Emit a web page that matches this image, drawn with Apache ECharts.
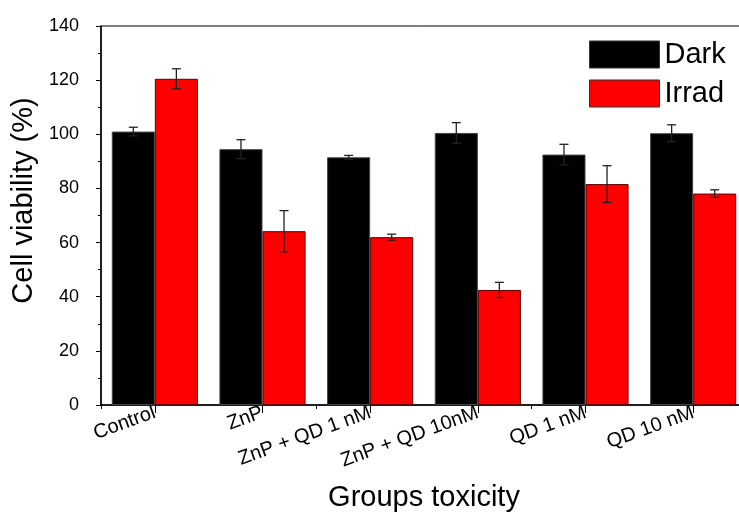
<!DOCTYPE html>
<html><head><meta charset="utf-8">
<script src="https://cdn.jsdelivr.net/npm/echarts@6/dist/echarts.min.js"></script>
<style>html,body{margin:0;padding:0;background:#fff;overflow:hidden;width:739px;height:513px}#c{width:739px;height:513px}</style>
</head><body><div id="c"></div>
<script>
var categories = ['Control', 'ZnP', 'ZnP + QD 1 nM', 'ZnP + QD 10nM', 'QD 1 nM', 'QD 10 nM'];
var dark = [101, 94.5, 91.5, 100.5, 92.5, 100.4];
var darkErr = [1.6, 3.5, 0.7, 3.8, 3.8, 3.1];
var irrad = [120.5, 64.2, 62, 42.5, 81.6, 78.1];
var irradErr = [3.7, 7.6, 1.1, 2.8, 6.8, 1.4];
var yTicks = [0, 20, 40, 60, 80, 100, 120, 140];

var FONT = 'Liberation Sans, Arial, sans-serif';

function errData(vals, errs) {
  return vals.map(function (v, i) { return [i, v - errs[i], v + errs[i]]; });
}
function errSeries(vals, errs, side) {
  return {
    type: 'custom', xAxisIndex: 0, yAxisIndex: 0, z: 5,
    data: errData(vals, errs),
    renderItem: function (params, api) {
      var x = api.value(0);
      var lo = api.coord([x, api.value(1)]);
      var hi = api.coord([x, api.value(2)]);
      var band = api.size([1, 0])[0];
      var cx = lo[0] + side * band * 0.2;
      var hw = 4.5;
      var st = { stroke: '#222', lineWidth: 1.3, fill: null };
      return { type: 'group', children: [
        { type: 'line', shape: { x1: cx, y1: lo[1], x2: cx, y2: hi[1] }, style: st },
        { type: 'line', shape: { x1: cx - hw, y1: lo[1], x2: cx + hw, y2: lo[1] }, style: st },
        { type: 'line', shape: { x1: cx - hw, y1: hi[1], x2: cx + hw, y2: hi[1] }, style: st }
      ]};
    }
  };
}

var chart = echarts.init(document.getElementById('c'), null, { renderer: 'canvas', width: 739, height: 513 });
chart.setOption({
  animation: false,
  textStyle: { fontFamily: FONT, color: '#000' },
  grid: { left: 101, width: 646, top: 26, height: 379, show: true, borderColor: '#000', borderWidth: 1,
          containLabel: false, outerBoundsMode: 'none' },
  legend: {
    orient: 'vertical', left: 584, top: 35, itemWidth: 70, itemHeight: 27, itemGap: 10,
    icon: 'rect',
    data: ['Dark', 'Irrad'],
    textStyle: { fontFamily: FONT, fontSize: 29, color: '#000', lineHeight: 27 },
    itemStyle: { borderColor: '#333', borderWidth: 1 }
  },
  xAxis: [{
    type: 'category', data: categories, position: 'bottom',
    name: 'Groups toxicity', nameLocation: 'middle', nameGap: 78,
    nameTextStyle: { fontFamily: FONT, fontSize: 29, color: '#000' },
    axisLine: { show: true, lineStyle: { color: '#000', width: 1.5 } },
    axisTick: { show: true, alignWithLabel: true, length: 8, lineStyle: { color: '#000', width: 1 } },
    axisLabel: { rotate: 20, fontFamily: FONT, fontSize: 20, color: '#000', margin: 7, interval: 0 },
    splitLine: { show: false }
  }, {
    type: 'category', data: categories, position: 'bottom',
    axisLine: { show: false },
    axisTick: { show: true, length: 4, lineStyle: { color: '#000', width: 1 } },
    axisLabel: { show: false },
    splitLine: { show: false }
  }],
  yAxis: {
    type: 'value', min: yTicks[0], max: yTicks[yTicks.length - 1], interval: 20,
    name: 'Cell viability (%)', nameLocation: 'middle', nameGap: 62,
    nameTextStyle: { fontFamily: FONT, fontSize: 29, color: '#000', padding: [0, 0, 0, 30] },
    axisLine: { show: true, lineStyle: { color: '#000', width: 1.5 } },
    axisTick: { show: true, length: 5, lineStyle: { color: '#000' } },
    minorTick: { show: true, splitNumber: 2, length: 3, lineStyle: { color: '#000' } },
    axisLabel: { fontFamily: FONT, fontSize: 18, color: '#000', margin: 22 },
    splitLine: { show: false }
  },
  series: [
    { name: 'Dark', type: 'bar', data: dark, barWidth: '40%', barGap: '0%',
      itemStyle: { color: '#000', borderColor: '#444', borderWidth: 1 } },
    { name: 'Irrad', type: 'bar', data: irrad, barWidth: '40%', barGap: '0%',
      itemStyle: { color: '#ff0000', borderColor: '#5a0000', borderWidth: 1 } },
    errSeries(dark, darkErr, -1),
    errSeries(irrad, irradErr, 1)
  ]
});
</script></body></html>
